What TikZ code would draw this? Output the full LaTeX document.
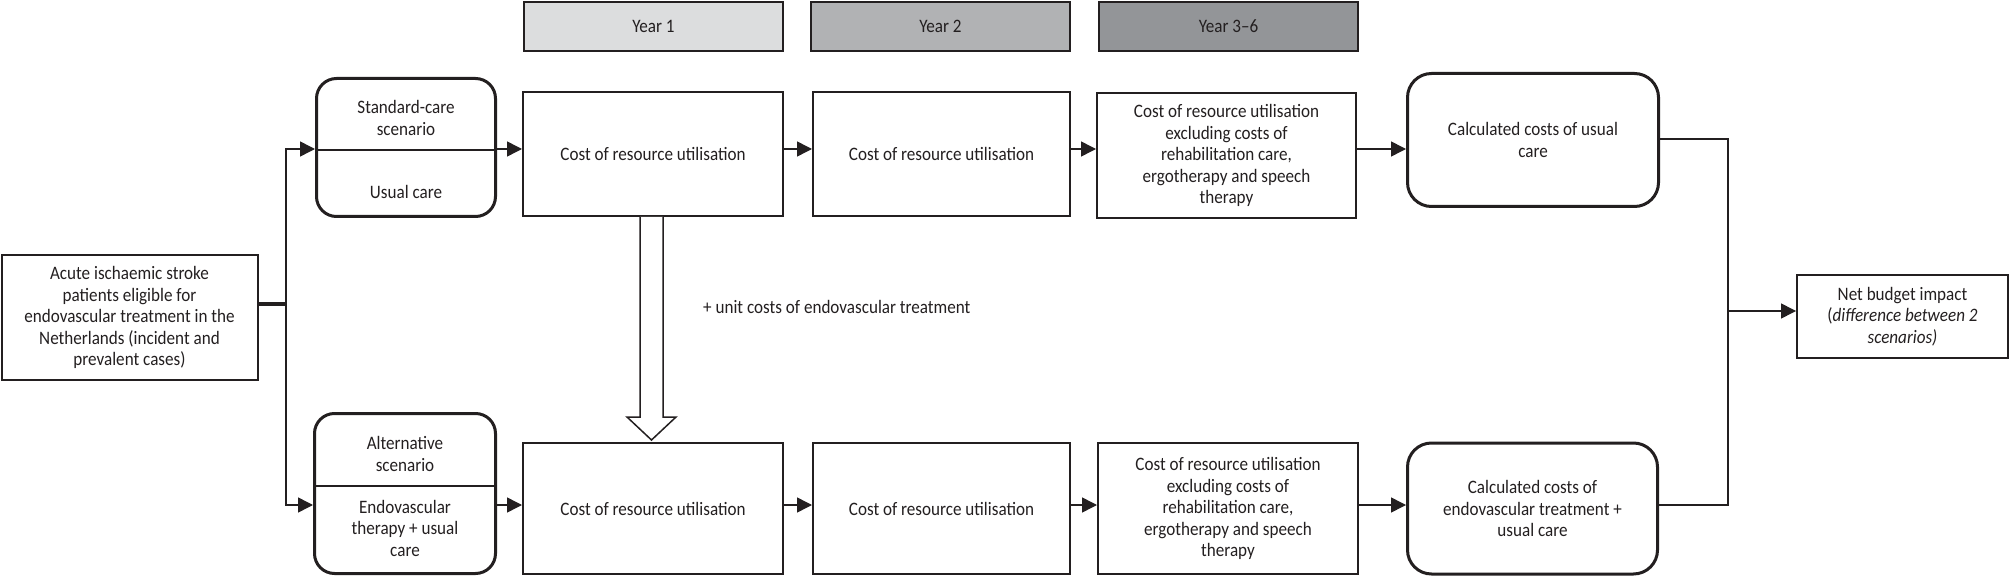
\documentclass[tikz,border=0pt]{standalone}
\usepackage{fontspec}
\setmainfont{Carlito}[FakeStretch=0.9]
\usetikzlibrary{arrows.meta,calc}
\definecolor{ink}{HTML}{231F20}
\definecolor{yrA}{HTML}{DCDDDE}
\definecolor{yrB}{HTML}{B1B2B4}
\definecolor{yrC}{HTML}{939598}
\begin{document}
\begin{tikzpicture}[x=1pt,y=-1pt,
  font=\fontsize{19}{21.5}\selectfont,
  box/.style={draw=ink, line width=2pt, align=center, inner sep=3pt, text=ink},
  rbox/.style={box, rounded corners=20pt, line width=3pt},
  yrbox/.style={box, minimum width=259pt, minimum height=49pt},
  txt/.style={align=center, text=ink, inner sep=0pt},
  arr/.style={draw=ink, line width=1.5pt, -{Triangle[length=15pt,width=15pt]}},
  link/.style={draw=ink, line width=1.5pt},
  hollow/.style={draw=ink, line width=1.5pt, fill=white, line join=miter}]
\useasboundingbox (0,0) rectangle (2010,577);

% year headers
\node[yrbox, fill=yrA] (y1) at (653.5,26.5) {Year 1};
\node[yrbox, fill=yrB] (y2) at (940.5,26.5) {Year 2};
\node[yrbox, fill=yrC] (y3) at (1228.5,26.5) {Year 3–6};

% source
\node[box, minimum width=256pt, minimum height=125pt] (src) at (129.5,317.5)
  {Acute ischaemic stroke\\patients eligible for\\endovascular treatment in the\\Netherlands (incident and\\prevalent cases)};

% scenario boxes
\node[rbox, minimum width=179pt, minimum height=138pt] (std) at (406,147.5) {};
\draw[link] (std.west |- 0,150) -- (std.east |- 0,150);
\node[txt] (stdA) at (406,118) {Standard-care\\scenario};
\node[txt] (stdB) at (406,192) {Usual care};

\node[rbox, minimum width=181pt, minimum height=160pt] (alt) at (405,493.5) {};
\draw[link] (alt.west |- 0,486) -- (alt.east |- 0,486);
\node[txt] (altA) at (405,454) {Alternative\\scenario};
\node[txt] (altB) at (405,528) {Endovascular\\therapy + usual\\care};

% top row
\node[box, minimum width=260pt, minimum height=124pt] (c1t) at (653,154) {Cost of resource utilisation};
\node[box, minimum width=257pt, minimum height=124pt] (c2t) at (941.5,154) {Cost of resource utilisation};
\node[box, minimum width=259pt, minimum height=125pt] (c3t) at (1226.5,155.5)
  {Cost of resource utilisation\\excluding costs of\\rehabilitation care,\\ergotherapy and speech\\therapy};
\node[rbox, rounded corners=24pt, minimum width=251pt, minimum height=133pt] (calct) at (1533,140)
  {Calculated costs of usual\\care};

% bottom row
\node[box, minimum width=260pt, minimum height=131pt] (c1b) at (653,508.5) {Cost of resource utilisation};
\node[box, minimum width=257pt, minimum height=131pt] (c2b) at (941.5,508.5) {Cost of resource utilisation};
\node[box, minimum width=260pt, minimum height=131pt] (c3b) at (1228,508.5)
  {Cost of resource utilisation\\excluding costs of\\rehabilitation care,\\ergotherapy and speech\\therapy};
\node[rbox, rounded corners=24pt, minimum width=250pt, minimum height=131pt] (calcb) at (1532.5,508.5)
  {Calculated costs of\\endovascular treatment +\\usual care};

% net budget
\node[box, minimum width=211pt, minimum height=83pt] (net) at (1902.5,316.5)
  {Net budget impact\\(\textit{difference between 2}\\\textit{scenarios)}};

% fork from source
\coordinate (fork) at (286,304);
\coordinate (rowt) at (0,149);
\coordinate (rowb) at (0,505);
\draw[draw=ink, line width=3pt] (src.east |- fork) -- (fork);
\draw[arr] (fork) |- (std.west |- rowt);
\draw[arr] (fork) |- (alt.west |- rowb);

% row arrows
\draw[arr] (std.east |- rowt) -- (c1t.west |- rowt);
\draw[arr] (c1t.east |- rowt) -- (c2t.west |- rowt);
\draw[arr] (c2t.east |- rowt) -- (c3t.west |- rowt);
\draw[arr] (c3t.east |- rowt) -- (calct.west |- rowt);
\draw[arr] (alt.east |- rowb) -- (c1b.west |- rowb);
\draw[arr] (c1b.east |- rowb) -- (c2b.west |- rowb);
\draw[arr] (c2b.east |- rowb) -- (c3b.west |- rowb);
\draw[arr] (c3b.east |- rowb) -- (calcb.west |- rowb);

% merge to net budget
\coordinate (merge) at (1728,311);
\draw[link] (calct.east |- 0,139) -| (merge);
\draw[link] (calcb.east |- rowb) -| (merge);
\draw[arr] (merge) -- (net.west |- merge);

% hollow block arrow
\draw[hollow] ($(c1t.south)+(-13,0)$) -- ($(c1t.south)+(-13,200)$) -- ($(c1t.south)+(-26,200)$)
  -- ($(c1b.north)+(-1.5,-2)$) -- ($(c1t.south)+(23,200)$) -- ($(c1t.south)+(10,200)$)
  -- ($(c1t.south)+(10,0)$);
\node[txt, anchor=west] (lbl) at (703,307) {+ unit costs of endovascular treatment};
\end{tikzpicture}
\end{document}
